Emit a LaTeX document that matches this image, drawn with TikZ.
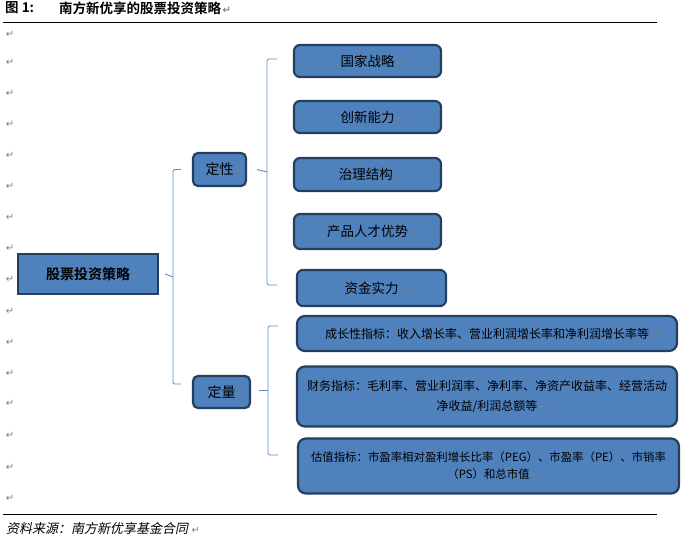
\documentclass[tikz,border=0pt]{standalone}
\usepackage{fontspec}
\setmainfont{Noto Sans CJK SC}[BoldFont={Noto Sans CJK SC Bold}]
\newfontfamily\slantcjk{Noto Sans CJK SC}[FakeSlant=0.2]
\newfontfamily\markfont{DejaVu Sans}

\definecolor{boxfill}{HTML}{4F81BD}
\definecolor{boxline}{HTML}{243F60}
\definecolor{bracketblue}{HTML}{5B8CCB}
\definecolor{markgray}{HTML}{7F7F7F}

% paragraph mark, kept out of the centring
\newcommand{\pmark}{\rlap{\kern1.5pt\markfont\fontsize{10}{10}\selectfont\textcolor{markgray}{↵}}}

\begin{document}
\begin{tikzpicture}[x=1pt,y=-1pt,
    leafbox/.style={draw=boxline,fill=boxfill,line width=2.2pt,rounded corners=6pt,
        inner sep=0pt,font=\fontsize{13.5}{16}\selectfont},
    wordbox/.style={draw=boxline,fill=boxfill,line width=2.2pt,rounded corners=8pt,
        inner sep=0pt,font=\fontsize{12}{20}\selectfont,align=center},
    catbox/.style={draw=boxline,fill=boxfill,line width=2.2pt,rounded corners=5pt,
        inner sep=0pt,font=\fontsize{14}{16}\selectfont},
    rootbox/.style={draw=boxline,fill=boxfill,line width=2.4pt,
        inner sep=0pt,font=\bfseries\fontsize{14}{16}\selectfont},
    bracket/.style={draw=bracketblue,line width=0.9pt,rounded corners=1.5pt},
    rule/.style={draw=black,line width=1pt},
    pmk/.style={inner sep=0pt,font=\markfont\fontsize{10}{10}\selectfont,text=markgray}]

\useasboundingbox (0,0) rectangle (688,543);

% title and source
\node[anchor=west,inner sep=0pt,font=\bfseries\fontsize{13.5}{16}\selectfont] (fig) at (5,8) {图 1:};
\node[anchor=west,inner sep=0pt,font=\bfseries\fontsize{13.5}{16}\selectfont] (title) at (59,8) {南方新优享的股票投资策略\pmark};
\draw[rule] (3,23) -- (657,23);
\draw[rule] (3,514) -- (657,514);
\node[anchor=west,inner sep=0pt,font=\slantcjk\fontsize{13}{16}\selectfont] (src) at (6,529) {资料来源：南方新优享基金合同\kern2pt\pmark};

% marks down the left margin
\foreach \y in {34,62,93,124,155,186,217,248,279,311,342,373,403,435,467,498}
  \node[pmk] (m\y) at (10,\y) {↵};

% boxes
\node[rootbox,minimum width=140pt,minimum height=40pt] (root) at (88,274) {股票投资策略\pmark};

\node[catbox,minimum width=53pt,minimum height=33pt] (qual) at (219.5,169.5) {定性\pmark};
\node[catbox,minimum width=57pt,minimum height=32pt] (quant) at (221.5,392) {定量\pmark};

\node[leafbox,minimum width=147pt,minimum height=32pt] (n1) at (367.5,61) {国家战略\pmark};
\node[leafbox,minimum width=147pt,minimum height=32pt] (n2) at (367.5,117) {创新能力\pmark};
\node[leafbox,minimum width=147pt,minimum height=33pt] (n3) at (367.5,174.5) {治理结构\ \pmark};
\node[leafbox,minimum width=147pt,minimum height=35pt] (n4) at (367.5,231.5) {产品人才优势\pmark};
\node[leafbox,minimum width=149pt,minimum height=36pt] (n5) at (371.5,288) {资金实力\pmark};

\node[wordbox,minimum width=380pt,minimum height=35pt] (q1) at (487,333.5)
  {成长性指标：收入增长率、营业利润增长率和净利润增长率等\pmark};
\node[wordbox,minimum width=380pt,minimum height=60pt] (q2) at (487,396.5)
  {财务指标：毛利率、营业利润率、净利率、净资产收益率、经营活动\\净收益/利润总额等\pmark};
\node[wordbox,minimum width=381pt,minimum height=55pt,font=\fontsize{11.4}{17}\selectfont] (q3) at (488.5,466)
  {估值指标：市盈率相对盈利增长比率（PEG）、市盈率（PE）、市销率\\（PS）和总市值\pmark};

% brackets
\coordinate (b0) at (173,277);
\draw[bracket] ([xshift=-11pt]qual.west) -| (b0) |- (181,384);
\draw[bracket] ([xshift=6pt]root.east) -- (b0);

\coordinate (b1) at (267,172);
\draw[bracket] (277,59) -| (b1) |- (277,285);
\draw[bracket] ([xshift=10pt]qual.east) -- (b1);

\coordinate (b2) at (268,390);
\draw[bracket] ([xshift=-18pt]q1.west |- 0,326) -| (b2) |- (278,455);
\draw[bracket] ([xshift=8pt]quant.east |- b2) -- (b2);

\end{tikzpicture}
\end{document}
